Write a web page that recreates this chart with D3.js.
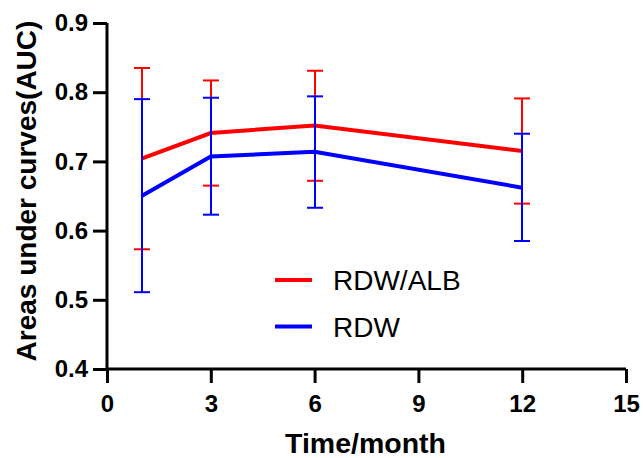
<!DOCTYPE html>
<html>
<head>
<meta charset="utf-8">
<script src="https://cdn.jsdelivr.net/npm/d3@7"></script>
<style>
  body { margin: 0; background: #fff; }
  text { font-family: Arial, "Liberation Sans", sans-serif; }
</style>
</head>
<body>
<div id="wrapper"></div>
<script>
const months = [1, 3, 6, 12]
const seriesNames = ['RDW/ALB', 'RDW']
const seriesColors = ['#ff0000', '#0000ff']
const ratioMean = [0.704, 0.741, 0.752, 0.715]
const ratioUpper = [0.835, 0.817, 0.831, 0.791]
const ratioLower = [0.573, 0.665, 0.672, 0.639]
const rdwMean = [0.650, 0.707, 0.714, 0.662]
const rdwUpper = [0.790, 0.792, 0.794, 0.740]
const rdwLower = [0.511, 0.623, 0.633, 0.585]
const xTicks = [0, 3, 6, 9, 12, 15]
const yTicks = [0.4, 0.5, 0.6, 0.7, 0.8, 0.9]

function drawChart() {
  const dimensions = {
    width: 643,
    height: 458,
    margin: { top: 23, right: 17, bottom: 89, left: 107 },
  }
  dimensions.boundedWidth = dimensions.width - dimensions.margin.left - dimensions.margin.right
  dimensions.boundedHeight = dimensions.height - dimensions.margin.top - dimensions.margin.bottom

  const series = [
    { name: seriesNames[0], color: seriesColors[0], mean: ratioMean, upper: ratioUpper, lower: ratioLower },
    { name: seriesNames[1], color: seriesColors[1], mean: rdwMean, upper: rdwUpper, lower: rdwLower },
  ]

  const wrapper = d3.select('#wrapper')
    .append('svg')
    .attr('width', dimensions.width)
    .attr('height', dimensions.height)

  const bounds = wrapper.append('g')
    .attr('transform', `translate(${dimensions.margin.left},${dimensions.margin.top})`)

  const xScale = d3.scaleLinear()
    .domain([0, 15])
    .range([0, dimensions.boundedWidth])

  const yScale = d3.scaleLinear()
    .domain([0.4, 0.9])
    .range([dimensions.boundedHeight, 0])

  // lines
  const lineGenerator = d3.line()
    .x((d, i) => xScale(months[i]))
    .y(d => yScale(d))

  bounds.selectAll('.series-line')
    .data(series)
    .enter().append('path')
    .attr('class', 'series-line')
    .attr('d', s => lineGenerator(s.mean))
    .attr('fill', 'none')
    .attr('stroke', s => s.color)
    .attr('stroke-width', 4)

  // error bars (snapped to whole pixels so blue fully covers red)
  const capHalf = 8
  const px = d => Math.round(xScale(d.m))
  series.forEach(s => {
    const g = bounds.append('g')
      .attr('stroke', s.color)
      .attr('stroke-width', 2)
    const rows = months.map((m, i) => ({ m, hi: s.upper[i], lo: s.lower[i] }))
    g.selectAll('.bar')
      .data(rows)
      .enter().append('line')
      .attr('x1', px)
      .attr('x2', px)
      .attr('y1', d => yScale(d.hi))
      .attr('y2', d => yScale(d.lo))
    g.selectAll('.cap-hi')
      .data(rows)
      .enter().append('line')
      .attr('x1', d => px(d) - capHalf)
      .attr('x2', d => px(d) + capHalf)
      .attr('y1', d => yScale(d.hi))
      .attr('y2', d => yScale(d.hi))
    g.selectAll('.cap-lo')
      .data(rows)
      .enter().append('line')
      .attr('x1', d => px(d) - capHalf)
      .attr('x2', d => px(d) + capHalf)
      .attr('y1', d => yScale(d.lo))
      .attr('y2', d => yScale(d.lo))
  })

  // axes
  const xAxisGenerator = d3.axisBottom(xScale)
    .tickValues(xTicks)
    .tickSize(14)
    .tickPadding(12)
    .tickFormat(d3.format('d'))

  const xAxis = bounds.append('g')
    .call(xAxisGenerator)
    .attr('transform', `translate(0,${dimensions.boundedHeight})`)

  const yAxisGenerator = d3.axisLeft(yScale)
    .tickValues(yTicks)
    .tickSize(14)
    .tickPadding(5)
    .tickFormat(d3.format('.1f'))

  const yAxis = bounds.append('g')
    .call(yAxisGenerator)

  ;[xAxis, yAxis].forEach(axis => {
    axis.attr('font-size', null).attr('font-family', null)
    axis.select('.domain').attr('stroke', '#000').attr('stroke-width', 3)
    axis.selectAll('.tick line').attr('stroke', '#000').attr('stroke-width', 3)
    axis.selectAll('.tick text')
      .attr('fill', '#000')
      .style('font-size', '24px')
      .style('font-weight', 'bold')
  })
  xAxis.select('.domain').attr('d', `M0,0H${dimensions.boundedWidth}`)
  yAxis.select('.domain').attr('d', `M0,0V${dimensions.boundedHeight}`)

  xAxis.append('text')
    .attr('x', dimensions.boundedWidth / 2 - 1)
    .attr('y', 84)
    .attr('fill', '#000')
    .style('font-size', '28.5px')
    .style('font-weight', 'bold')
    .attr('text-anchor', 'middle')
    .text('Time/month')

  yAxis.append('text')
    .attr('transform', `translate(${-dimensions.margin.left + 36},${dimensions.boundedHeight / 2 - 5}) rotate(-90)`)
    .attr('fill', '#000')
    .style('font-size', '28px')
    .style('font-weight', 'bold')
    .attr('text-anchor', 'middle')
    .text('Areas under curves(AUC)')

  // legend
  const legend = wrapper.append('g')
    .attr('transform', 'translate(275,280)')
  const legendItems = legend.selectAll('g')
    .data(series)
    .enter().append('g')
    .attr('transform', (d, i) => `translate(0,${i * 46.5})`)
  legendItems.append('line')
    .attr('x1', 0)
    .attr('x2', 37)
    .attr('stroke', d => d.color)
    .attr('stroke-width', 4)
  legendItems.append('text')
    .attr('x', 58)
    .attr('y', 10)
    .style('font-size', '28px')
    .attr('fill', '#000')
    .text(d => d.name)
}

drawChart()
</script>
</body>
</html>
